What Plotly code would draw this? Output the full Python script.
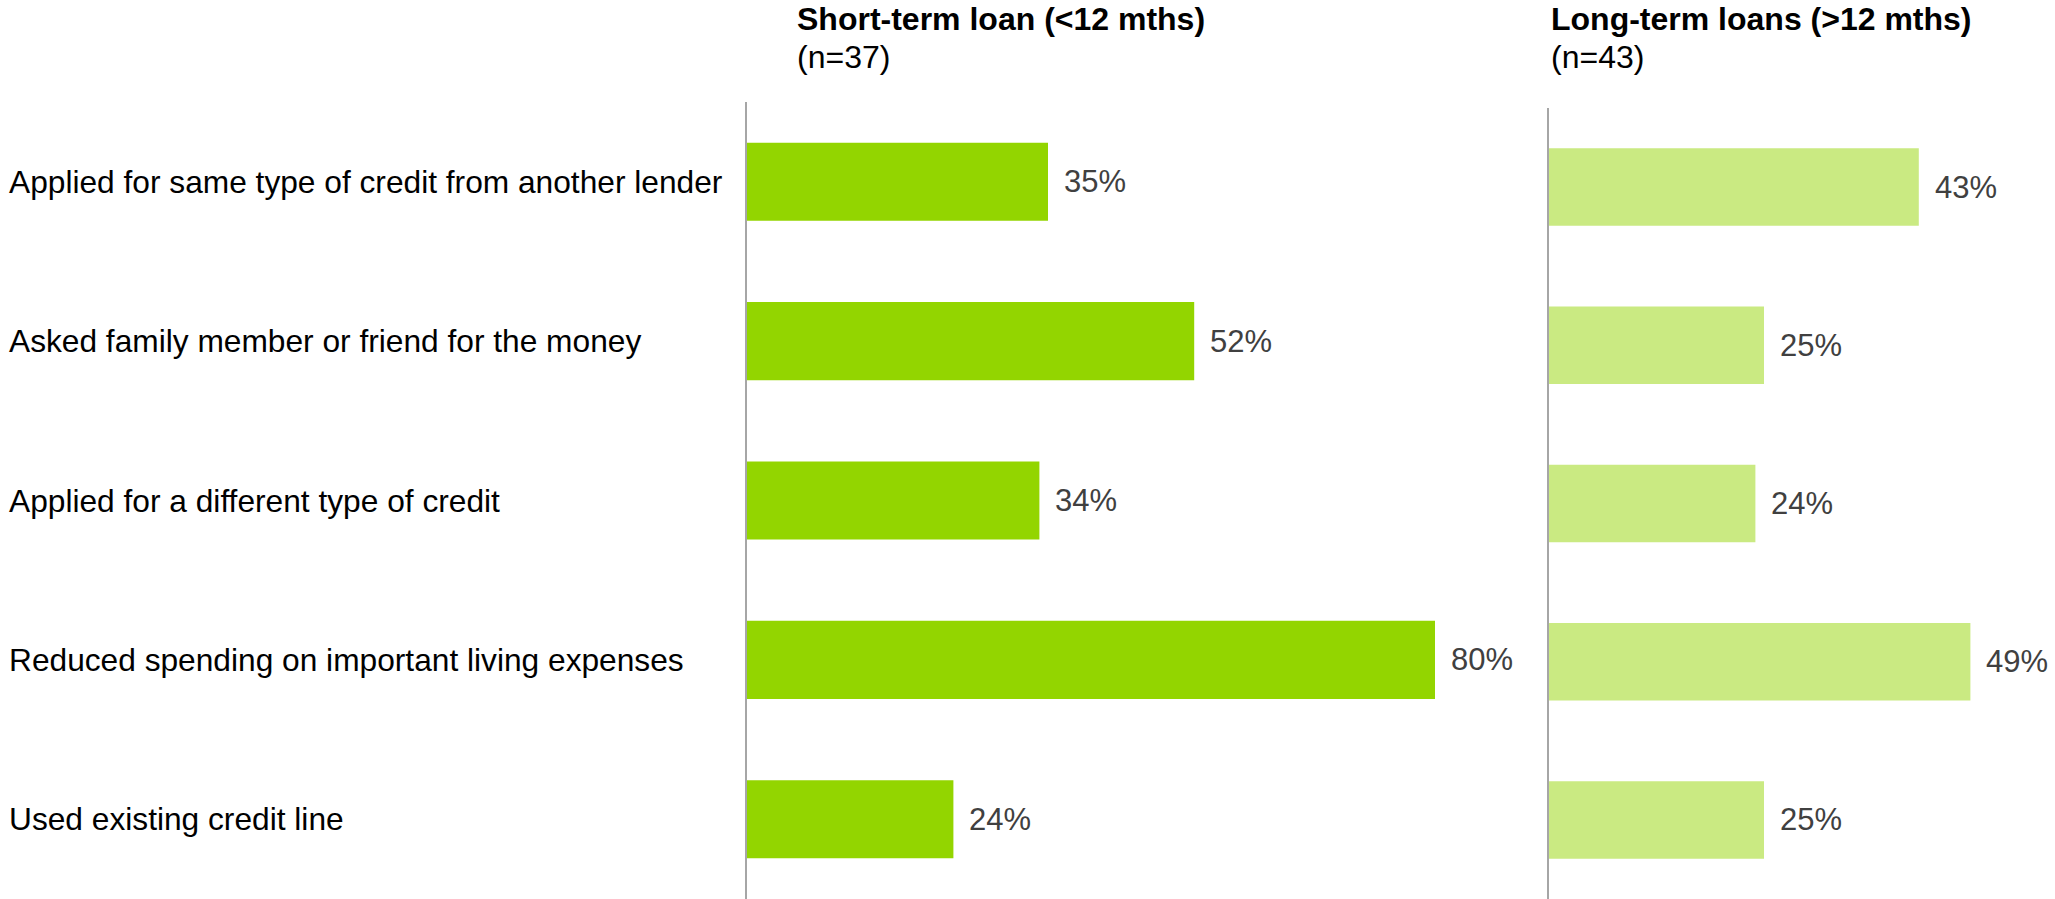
import plotly.graph_objects as go

# Survey responses: actions taken, by loan term
categories = [
    "Applied for same type of credit from another lender",
    "Asked family member or friend for the money",
    "Applied for a different type of credit",
    "Reduced spending on important living expenses",
    "Used existing credit line",
]
short_term = [35, 52, 34, 80, 24]
long_term = [43, 25, 24, 49, 25]

short_title = "Short-term loan (<12 mths)"
short_n = "(n=37)"
long_title = "Long-term loans (>12 mths)"
long_n = "(n=43)"

W, H = 2055, 899
FONT = "Arial, 'Liberation Sans', sans-serif"
SHORT_COLOR = "#93D500"
LONG_COLOR = "#CAEA82"
AXIS_COLOR = "#A6A6A6"
PX_PER_UNIT = 8.6

fig = go.Figure()
fig.add_trace(go.Bar(
    x=short_term, y=categories, orientation="h",
    marker=dict(color=SHORT_COLOR, line=dict(width=0)),
    width=0.49, xaxis="x", yaxis="y", hoverinfo="skip", showlegend=False,
))
fig.add_trace(go.Bar(
    x=long_term, y=categories, orientation="h",
    marker=dict(color=LONG_COLOR, line=dict(width=0)),
    width=0.49, xaxis="x2", yaxis="y2", hoverinfo="skip", showlegend=False,
))

# Panel geometry (pixels)
left_x0, left_x1 = 747, 1500
right_x0, right_x1 = 1549, 2055
left_top, right_top = 102, 108

annotations = []

# Value labels beside each bar
for cat, v in zip(categories, short_term):
    annotations.append(dict(
        x=v, y=cat, xref="x", yref="y", text=f"{v}%", showarrow=False,
        xanchor="left", yanchor="middle", xshift=14,
        font=dict(family=FONT, size=31, color="#404040"),
    ))
for cat, v in zip(categories, long_term):
    annotations.append(dict(
        x=v, y=cat, xref="x2", yref="y2", text=f"{v}%", showarrow=False,
        xanchor="left", yanchor="middle", xshift=14,
        font=dict(family=FONT, size=31, color="#404040"),
    ))

# Category labels, left aligned at the page edge
for cat in categories:
    annotations.append(dict(
        x=7 / W, y=cat, xref="paper", yref="y", text=cat, showarrow=False,
        xanchor="left", yanchor="middle",
        font=dict(family=FONT, size=31.7, color="#000000"),
    ))

# Panel headings
for x0, title, n in [(797, short_title, short_n), (1551, long_title, long_n)]:
    annotations.append(dict(
        x=x0 / W, y=1 - 19 / H, xref="paper", yref="paper",
        text=f"<b>{title}</b>", showarrow=False,
        xanchor="left", yanchor="middle", xshift=-2,
        font=dict(family=FONT, size=32, color="#000000"),
    ))
    annotations.append(dict(
        x=x0 / W, y=1 - 57 / H, xref="paper", yref="paper",
        text=n, showarrow=False,
        xanchor="left", yanchor="middle", xshift=-2,
        font=dict(family=FONT, size=32, color="#000000"),
    ))

hidden_x = dict(showgrid=False, zeroline=False, showticklabels=False,
                ticks="", showline=False, fixedrange=True)
cat_y = dict(type="category", categoryorder="array", categoryarray=categories,
             autorange="reversed", showgrid=False, zeroline=False,
             showticklabels=False, ticks="", showline=True,
             linecolor=AXIS_COLOR, linewidth=2)

fig.update_layout(
    width=W, height=H,
    margin=dict(l=0, r=0, t=0, b=0),
    paper_bgcolor="white", plot_bgcolor="white",
    bargap=0.5,
    xaxis=dict(domain=[left_x0 / W, left_x1 / W],
               range=[0, (left_x1 - left_x0) / PX_PER_UNIT], **hidden_x),
    xaxis2=dict(domain=[right_x0 / W, right_x1 / W],
                range=[0, (right_x1 - right_x0) / PX_PER_UNIT], **hidden_x),
    yaxis=dict(domain=[0, 1 - left_top / H], anchor="x", **cat_y),
    yaxis2=dict(domain=[0, 1 - right_top / H], anchor="x2", **cat_y),
    annotations=annotations,
    showlegend=False,
)

fig.write_html("out.html")
